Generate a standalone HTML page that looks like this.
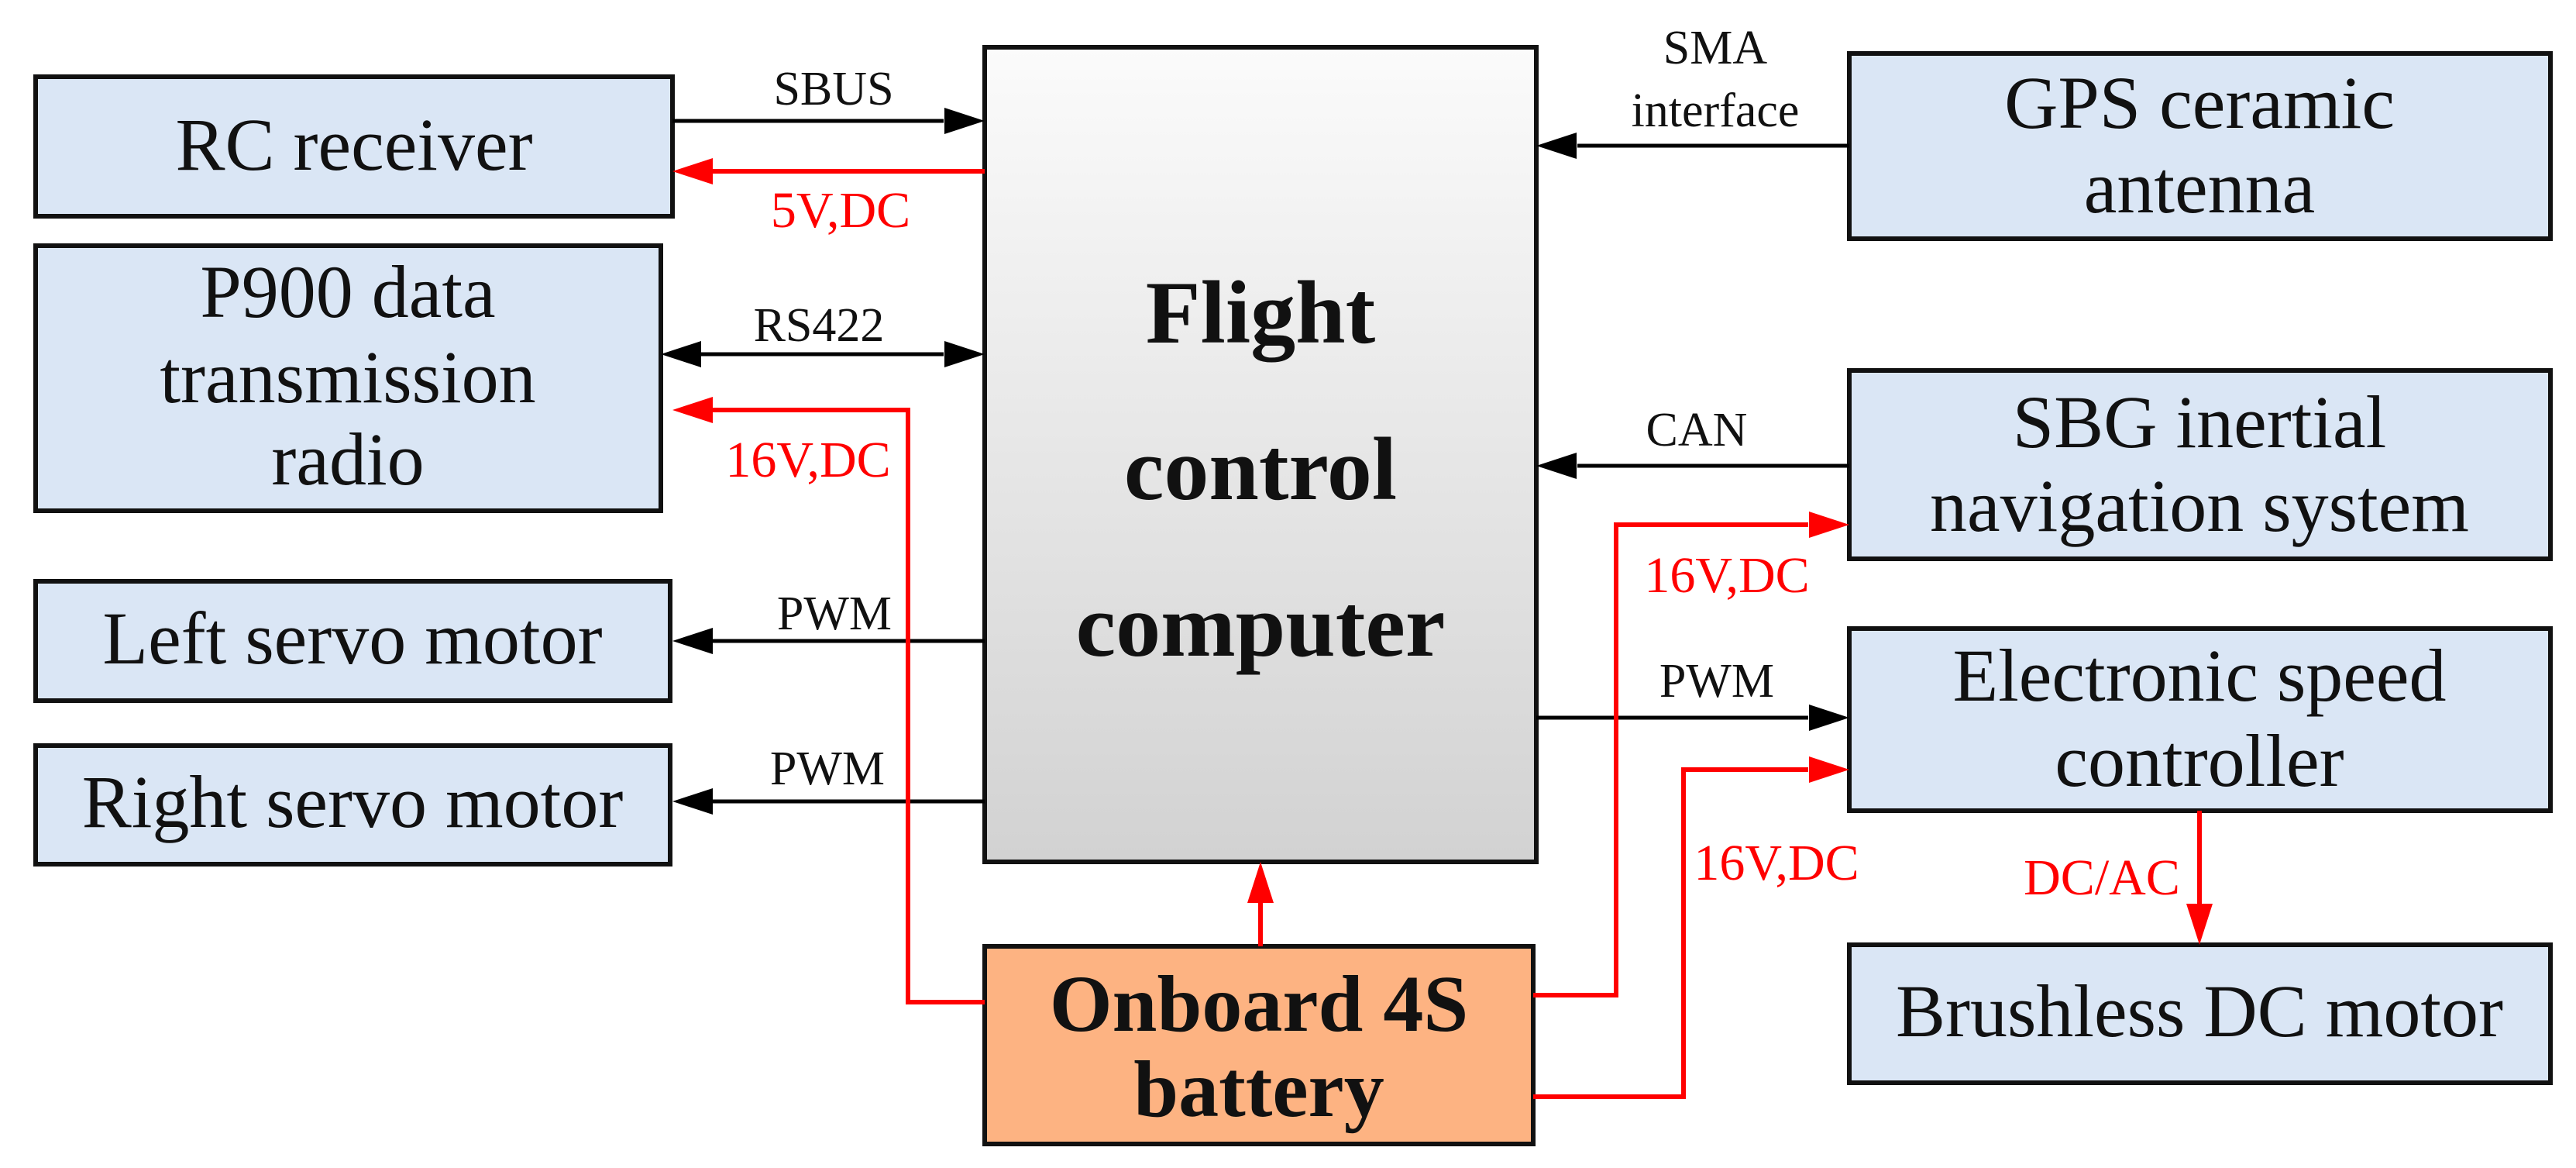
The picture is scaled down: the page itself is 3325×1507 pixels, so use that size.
<!DOCTYPE html>
<html><head><meta charset="utf-8"><style>html,body{margin:0;padding:0;background:#fff}svg{display:block}</style></head><body>
<svg width="3325" height="1507" viewBox="0 0 3325 1507" xmlns="http://www.w3.org/2000/svg" font-family="'Liberation Serif', serif">
<defs>
<linearGradient id="g" x1="0" y1="0" x2="0" y2="1"><stop offset="0" stop-color="#fbfbfb"/><stop offset="1" stop-color="#d2d2d2"/></linearGradient>
</defs>
<style>
.b{fill:#dae6f5;stroke:#111;stroke-width:6}
.t{font-size:96px;text-anchor:middle;fill:#111}
.l{font-size:62px;text-anchor:middle;fill:#111}
.r{font-size:66px;text-anchor:middle;fill:#f00}
.k{stroke:#000;stroke-width:5;fill:none}
.rd{stroke:#f00;stroke-width:6;fill:none}
</style>
<rect class="b" x="46" y="99" width="822" height="180"/>
<rect class="b" x="46" y="317" width="807" height="342"/>
<rect class="b" x="46" y="750" width="819" height="154"/>
<rect class="b" x="46" y="962" width="819" height="153"/>
<rect x="1271" y="61" width="712" height="1051" fill="url(#g)" stroke="#111" stroke-width="6"/>
<rect x="1271" y="1221" width="708" height="255" fill="#fdb382" stroke="#111" stroke-width="6"/>
<rect class="b" x="2387" y="69" width="905" height="239"/>
<rect class="b" x="2387" y="478" width="905" height="243"/>
<rect class="b" x="2387" y="811" width="905" height="235"/>
<rect class="b" x="2387" y="1219" width="905" height="178"/>
<text class="t" x="457" y="219">RC receiver</text>
<text class="t" x="449" y="409">P900 data</text>
<text class="t" x="449" y="519">transmission</text>
<text class="t" x="449" y="625">radio</text>
<text class="t" x="455" y="856">Left servo motor</text>
<text class="t" x="455" y="1067">Right servo motor</text>
<text class="t" x="2839" y="165">GPS ceramic</text>
<text class="t" x="2839" y="274">antenna</text>
<text class="t" x="2839" y="577">SBG inertial</text>
<text class="t" x="2839" y="685">navigation system</text>
<text class="t" x="2839" y="904">Electronic speed</text>
<text class="t" x="2839" y="1014">controller</text>
<text class="t" x="2839" y="1337">Brushless DC motor</text>
<g font-weight="bold" font-size="116" text-anchor="middle" fill="#111">
<text x="1627" y="442">Flight</text>
<text x="1627" y="644">control</text>
<text x="1627" y="846">computer</text>
</g>
<g font-weight="bold" font-size="104" text-anchor="middle" fill="#111">
<text x="1625" y="1330">Onboard 4S</text>
<text x="1625" y="1440">battery</text>
</g>
<g>
<line class="k" x1="868" y1="156" x2="1218" y2="156"/><path d="M1271,156 l-52,-17 v34 z"/>
<line class="k" x1="905" y1="457" x2="1218" y2="457"/><path d="M1271,457 l-52,-17 v34 z"/><path d="M853,457 l52,-17 v34 z"/>
<line class="k" x1="920" y1="827" x2="1271" y2="827"/><path d="M868,827 l52,-17 v34 z"/>
<line class="k" x1="920" y1="1034" x2="1271" y2="1034"/><path d="M868,1034 l52,-17 v34 z"/>
<line class="k" x1="2036" y1="188" x2="2387" y2="188"/><path d="M1983,188 l52,-17 v34 z"/>
<line class="k" x1="2036" y1="601" x2="2387" y2="601"/><path d="M1983,601 l52,-17 v34 z"/>
<line class="k" x1="1983" y1="926" x2="2334" y2="926"/><path d="M2387,926 l-52,-17 v34 z"/>
</g>
<g fill="#f00">
<line class="rd" x1="920" y1="221" x2="1271" y2="221"/><path d="M868,221 l52,-17 v34 z"/>
<polyline class="rd" points="1271,1293 1172,1293 1172,529 920,529"/><path d="M868,529 l52,-17 v34 z"/>
<line class="rd" x1="1627" y1="1221" x2="1627" y2="1165"/><path d="M1627,1112 l-17,53 h34 z"/>
<polyline class="rd" points="1979,1284 2086,1284 2086,677 2334,677"/><path d="M2387,677 l-52,-17 v34 z"/>
<polyline class="rd" points="1979,1415 2173,1415 2173,993 2334,993"/><path d="M2387,993 l-52,-17 v34 z"/>
<line class="rd" x1="2839" y1="1046" x2="2839" y2="1166"/><path d="M2839,1219 l-17,-53 h34 z"/>
</g>
<text class="l" x="1076" y="135">SBUS</text>
<text class="l" x="1057" y="440">RS422</text>
<text class="l" x="1077" y="812">PWM</text>
<text class="l" x="1068" y="1012">PWM</text>
<text class="l" x="2214" y="82">SMA</text>
<text class="l" x="2214" y="163">interface</text>
<text class="l" x="2190" y="575">CAN</text>
<text class="l" x="2216" y="899">PWM</text>
<text class="r" x="1085" y="293">5V,DC</text>
<text class="r" x="1043" y="615">16V,DC</text>
<text class="r" x="2229" y="764">16V,DC</text>
<text class="r" x="2293" y="1135">16V,DC</text>
<text class="r" x="2713" y="1154">DC/AC</text>
</svg>
</body></html>
